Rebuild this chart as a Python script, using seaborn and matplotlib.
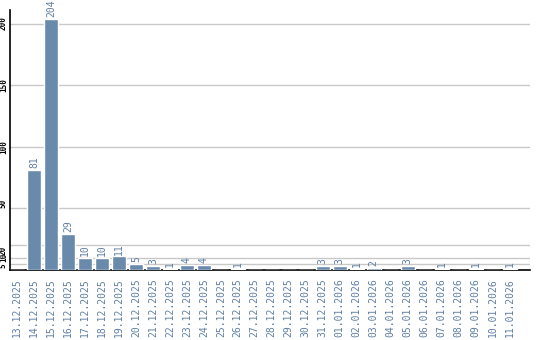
import matplotlib
matplotlib.use("Agg")
import matplotlib.pyplot as plt
import seaborn as sns
import pandas as pd

dates = ["13.12.2025", "14.12.2025", "15.12.2025", "16.12.2025", "17.12.2025",
         "18.12.2025", "19.12.2025", "20.12.2025", "21.12.2025", "22.12.2025",
         "23.12.2025", "24.12.2025", "25.12.2025", "26.12.2025", "27.12.2025",
         "28.12.2025", "29.12.2025", "30.12.2025", "31.12.2025", "01.01.2026",
         "02.01.2026", "03.01.2026", "04.01.2026", "05.01.2026", "06.01.2026",
         "07.01.2026", "08.01.2026", "09.01.2026", "10.01.2026", "11.01.2026"]
counts = [0, 81, 204, 29, 10, 10, 11, 5, 3, 1, 4, 4, 0, 1, 0,
          0, 0, 0, 3, 3, 1, 2, 0, 3, 0, 1, 0, 1, 0, 1]
yticks = [5, 10, 20, 50, 100, 150, 200]

bar_color = "#6a8aab"
text_color = "#5f7fa3"
ylabel_va = ["top", "center", "top", "bottom", "center", "center", "center"]

sns.set_theme(style="white")
plt.rcParams['font.family'] = ['DejaVu Sans Mono', 'DejaVu Sans']

df = pd.DataFrame({"date": dates, "count": counts})

fig = plt.figure(figsize=(5.4, 3.4), dpi=100)
ax = fig.add_axes([10 / 540, 70 / 340, 520 / 540, 260 / 340])

sns.barplot(data=df, x="date", y="count", color=bar_color, width=0.82,
            saturation=1, ax=ax, zorder=3)

for i, v in enumerate(counts):
    if v > 0:
        ax.text(i, v + 1.5, str(v), rotation=90, ha="center", va="bottom",
                fontsize=7, color=text_color, zorder=4)

ax.set_ylim(0, 211)
ax.set_xlim(-0.41, 30.2)
ax.set_yticks(yticks)
ax.set_yticklabels([str(t) for t in yticks], rotation=90,
                   fontsize=5.5, fontweight="bold", color="black")
for lbl, va in zip(ax.get_yticklabels(), ylabel_va):
    lbl.set_verticalalignment(va)
ax.tick_params(axis="y", length=0, pad=1.5)
ax.tick_params(axis="x", length=0, pad=6)
ax.set_xticks(range(len(dates)))
ax.set_xticklabels(dates, rotation=90, fontsize=7, color=text_color, va="top")
ax.yaxis.grid(True, color="#c8c8c8", linewidth=1, zorder=0)
ax.set_axisbelow(True)
ax.set_xlabel("")
ax.set_ylabel("")
for s in ["top", "right"]:
    ax.spines[s].set_visible(False)
for s in ["left", "bottom"]:
    ax.spines[s].set_color("black")
    ax.spines[s].set_linewidth(1.2)

fig.savefig("out.png", dpi=100)
